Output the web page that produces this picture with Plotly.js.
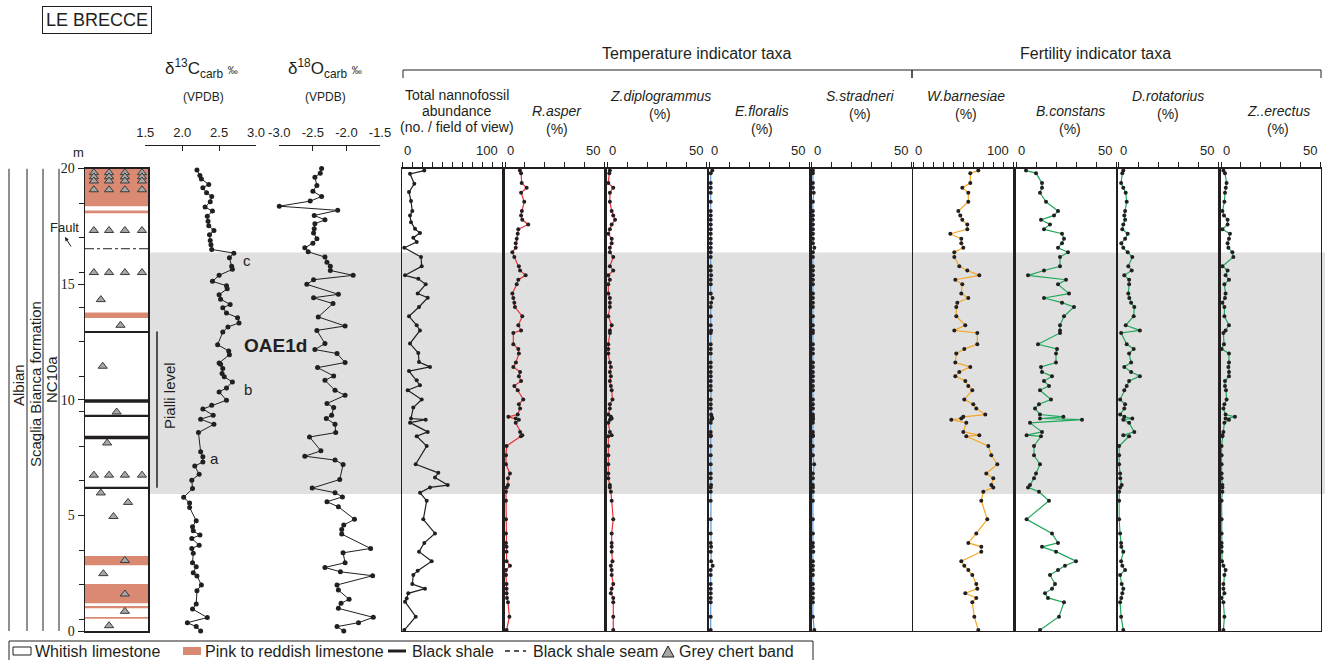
<!DOCTYPE html>
<html><head><meta charset="utf-8">
<script src="https://cdn.plot.ly/plotly-3.0.1.min.js"></script>
<style>body{margin:0;background:#fff}#chart{width:1333px;height:660px}</style>
</head><body><div id="chart"></div>
<script>
// ---------------- DATA ----------------
// delta13C carb (‰ VPDB) vs depth (m)
const c13Depth = [19.94,19.70,19.55,19.31,19.17,18.95,18.79,18.56,18.33,18.16,17.93,17.72,17.52,17.32,17.14,16.89,16.70,16.50,16.34,16.14,15.77,15.64,15.38,15.12,14.93,14.80,14.54,14.35,14.12,13.98,13.75,13.55,13.32,13.15,12.93,12.38,12.11,11.95,11.59,11.53,11.35,11.13,10.99,10.77,10.51,10.34,9.98,9.76,9.60,9.33,9.16,8.94,8.58,7.75,7.53,7.31,7.13,6.78,6.52,6.16,5.78,5.54,5.34,4.77,4.51,4.33,4.15,4.00,3.71,3.57,3.36,2.95,2.78,2.52,2.38,1.99,1.74,1.17,0.95,0.58,0.36,0.19,0.00];
const c13Value = [2.20,2.24,2.26,2.36,2.28,2.33,2.40,2.38,2.31,2.41,2.34,2.35,2.36,2.43,2.37,2.38,2.39,2.40,2.70,2.64,2.67,2.68,2.50,2.41,2.60,2.61,2.50,2.52,2.65,2.55,2.60,2.75,2.77,2.62,2.55,2.48,2.63,2.64,2.50,2.52,2.55,2.54,2.57,2.68,2.60,2.50,2.60,2.40,2.28,2.42,2.25,2.43,2.22,2.25,2.28,2.28,2.17,2.23,2.13,2.14,2.02,2.10,2.10,2.19,2.14,2.15,2.24,2.13,2.23,2.13,2.15,2.14,2.19,2.15,2.20,2.26,2.20,2.19,2.14,2.34,2.07,2.19,2.25];
// delta18O carb (‰ VPDB)
const o18Depth = [20.00,19.80,19.62,19.27,19.02,18.79,18.59,18.37,18.19,17.97,17.78,17.61,17.39,17.21,16.96,16.77,16.57,16.40,16.17,15.95,15.77,15.59,15.38,15.19,14.99,14.56,14.41,14.16,13.58,13.19,13.00,12.43,12.17,12.00,11.61,11.39,11.03,10.84,10.41,10.19,9.84,9.66,9.33,9.19,8.94,8.58,8.39,7.79,7.56,7.39,7.20,6.55,6.18,5.98,5.80,5.59,5.37,4.83,4.58,4.39,4.19,3.57,3.38,2.95,2.75,2.56,2.39,1.99,1.77,1.37,1.20,0.98,0.59,0.36,0.19,0.00];
const o18Value = [-2.37,-2.39,-2.47,-2.44,-2.50,-2.37,-2.54,-3.00,-2.13,-2.48,-2.32,-2.47,-2.48,-2.49,-2.44,-2.50,-2.62,-2.57,-2.32,-2.29,-2.24,-2.24,-1.90,-2.49,-2.59,-2.12,-2.49,-2.20,-2.42,-2.02,-2.44,-2.32,-2.47,-2.14,-2.02,-2.43,-2.19,-2.32,-2.17,-2.02,-2.29,-2.19,-2.22,-2.30,-2.17,-2.16,-2.55,-2.38,-2.62,-2.17,-2.05,-2.10,-2.51,-2.17,-2.06,-2.29,-2.12,-1.88,-2.04,-2.07,-2.07,-1.64,-2.05,-2.02,-2.32,-2.09,-1.61,-2.14,-2.12,-1.96,-2.08,-2.12,-1.60,-1.82,-2.14,-2.04];
// Total nannofossil abundance (no. / field of view)
const abundDepth = [19.91,19.77,19.34,18.98,18.59,18.16,17.97,17.68,17.39,17.21,17.01,16.82,16.57,16.17,15.77,15.38,15.23,14.99,14.59,14.41,14.01,13.61,13.22,13.00,12.43,12.02,11.63,11.42,11.24,10.84,10.63,10.41,10.01,9.66,9.19,9.14,9.01,8.61,8.42,8.00,7.21,6.84,6.64,6.31,6.21,5.98,5.63,4.83,4.22,3.81,3.43,3.02,2.61,2.42,2.03,1.83,1.63,1.41,1.27,0.62,0.04];
const abundValue = [22,7.7,12,6.7,8.7,10,7.7,8.7,12.7,17.7,11,14.4,2,18.7,19.4,2.7,16,23.4,15.4,25.4,16.7,6.7,14.4,17.7,7.7,16,16.7,27.7,6.7,14.4,17.7,5.4,19.4,11,8.7,23.4,7.7,25.4,14.4,24.4,13.4,36,32.7,45.4,27.7,17.7,24.4,21,32.7,22,16.7,29.4,15.4,11,10,22.7,6,4.4,2.7,13.4,2];
// Relative abundances (%) at sample depths (m)
const nannoDepth = [19.91,19.80,19.37,19.17,18.95,18.56,18.16,17.97,17.78,17.58,17.37,17.18,16.96,16.77,16.57,16.38,16.17,15.77,15.59,15.38,15.19,14.99,14.59,14.40,14.20,14.01,13.61,13.22,13.00,12.89,12.40,12.20,12.00,11.61,11.42,11.20,11.02,10.81,10.60,10.41,10.01,9.81,9.62,9.36,9.26,9.19,9.14,9.00,8.61,8.47,8.42,8.00,7.60,7.21,6.81,6.61,6.31,6.21,6.02,5.63,4.83,4.22,3.81,3.64,3.43,3.02,2.82,2.64,2.42,2.03,1.83,1.63,1.43,1.24,0.62,0.04];
const rAsper = [7.5,8.1,8.4,10.9,8.1,9.7,8.5,8.1,8.7,11.7, 6.7,6.4,5.9,5.4,5.4,3.7,4.7,7.0,7.6,10.4, 6.7,5.9,3.7,4.2,4.7,5.0,8.7,6.7,8.1,4.2, 4.2,6.7,7.0,5.5,4.2,7.6,7.0,8.1,4.7,6.4, 9.2,7.0,7.6,6.4,1.7,5.4,7.0,5.4,7.6,8.7, 8.0,0.8,0.5,0.5,2.5,1.5,1.5,0.8,0.5,0.5, 0.5,0.5,0.5,0.8,0.8,0.8,2.5,0.5,0.5,0.8, 0.8,0.8,1.0,1.5,2.2,0.8];
const zDiplogrammus = [1.3,1.0,0.5,3.0,1.3,1.3,2.2,3.0,3.9,2.2, 1.3,0.5,2.2,2.2,1.3,1.3,3.0,1.3,3.0,0.5, 1.3,0.5,0.5,1.3,1.3,1.3,0.5,2.2,1.3,1.3, 0.5,0.5,0.5,1.3,1.8,1.3,1.8,1.3,1.8,2.2, 2.6,1.3,1.3,0.5,1.8,2.2,1.3,0.5,1.3,2.2, 0.5,0.5,0.5,0.5,0.5,0.5,1.3,1.3,1.8,2.2, 3.0,2.2,2.2,2.2,2.2,2.6,1.8,2.2,2.2,3.0, 2.2,1.8,3.0,3.0,3.0,3.0];
const eFloralis = [1.5,0.7,0.7,0.7,0.7,0.7,0.7,0.7,0.7,0.7, 0.7,0.7,0.7,0.7,0.7,0.7,0.7,0.7,0.7,0.9, 0.7,0.7,0.7,1.6,0.9,0.7,0.7,0.7,0.9,0.7, 0.7,0.7,0.7,0.7,0.7,0.7,0.7,0.7,0.7,0.7, 0.7,0.7,0.7,0.9,1.2,1.5,0.9,0.7,0.7,0.7, 0.7,0.7,0.7,0.7,0.7,0.7,0.9,0.7,0.7,0.7, 0.7,0.7,0.7,0.9,0.7,0.9,1.7,0.7,0.7,0.7, 0.7,0.7,0.7,0.7,0.7,0.7];
const sStradneri = [0.6,0.6,0.6,0.6,1.0,0.6,0.6,0.6,0.6,0.6, 0.6,0.6,0.6,0.6,1.3,0.6,0.6,0.6,0.6,0.6, 0.6,0.6,0.6,0.6,0.6,0.6,0.6,0.6,0.6,0.6, 0.6,0.6,0.6,0.6,0.6,0.6,0.6,0.6,0.6,0.6, 0.6,0.6,0.6,0.6,0.6,0.6,0.6,0.6,0.6,0.6, 0.6,0.6,0.6,1.2,0.6,0.6,0.6,0.6,0.6,0.6, 0.6,0.6,0.6,0.6,0.8,0.6,0.6,0.6,0.6,0.6, 0.6,0.6,0.6,0.6,0.6,1.3];
const wBarnesiae = [65,57,57,49,55,55,45,47,49,54, 54,37,48,48,50,41,41,46,54,66, 42,49,48,55,44,43,43,52,41,64, 64,51,43,42,57,46,42,52,55,59, 51,60,63,72,50,48,38,53,50,66, 53,75,78,84,73,80,78,80,70,68, 74,63,55,68,68,48,51,55,59,63, 64,52,63,59,61,65];
const bConstans = [5,10,13,13,12,15,21,19,12.5,17, 14,23,24,23,21,26,22,22,14,6, 25,21,26.5,14,23,29,24,22,22,22, 11,20.5,20,20,12.5,13,18,14,16.5,12, 17.5,11.5,9.5,12,23.7,12,33,7,13,5.3, 12.5,9,9,12,10,9,7,6,11.5,16.5, 5.3,18,21,13,20,30,24.5,21,17,19.5, 18,14.5,16,24,21.5,12];
const dRotatorius = [2.5,2.0,1.4,2.5,3.7,4.2,3.4,3.0,3.4,2.5, 2.0,4.7,3.4,1.5,2.5,4.7,7.0,5.0,6.7,3.0, 5.4,5.4,5.0,5.5,6.4,8.0,7.7,3.7,10.8,1.4, 4.2,7.7,5.4,6.4,3.0,6.4,10.8,5.4,4.2,3.0, 0.9,3.4,3.0,0.9,3.0,7.0,2.5,5.4,8.0,2.5, 5.4,0.4,0.4,0.4,0.9,1.0,1.7,0.9,0.4,0.4, 0.4,0.9,1.4,1.5,2.5,1.4,2.0,3.4,0.9,1.7, 2.5,2.0,1.5,0.9,1.4,2.5];
const zErectus = [1.2,2.0,2.8,2.4,2.0,1.7,0.7,1.5,3.3,3.3, 0.7,4.5,4.0,3.3,3.7,5.7,6.2,0.7,3.3,2.3, 4.0,1.7,2.3,2.0,0.7,1.7,1.7,4.0,2.3,1.2, 1.5,0.3,4.0,4.0,3.7,4.0,4.0,2.0,2.0,2.5, 2.8,1.7,1.2,2.3,7.0,2.3,4.0,1.7,1.2,0.7, 0.7,0.3,0.3,0.3,0.3,0.3,0.7,0.7,0.7,0.3, 0.3,0.3,0.3,0.3,0.3,0.5,1.2,2.3,1.7,1.2, 1.2,1.7,0.3,1.2,1.7,1.2];
// Lithology (m)
const pinkBottom = [18.37,18.07,13.53,2.84,1.20,0.98,0.53];
const pinkTop    = [20.00,18.18,13.77,3.24,2.03,1.08,0.60];
const shaleDepth = [12.93,9.95,9.30,8.37,6.19];
const seamDepth  = [16.53];
const chertPos   = [0.14,0.38,0.63,0.90, 0.14,0.38,0.63,0.90, 0.14,0.38,0.63,0.90, 0.14,0.38,0.63,0.90, 0.14,0.38,0.63,0.90, 0.14,0.38,0.63,0.90, 0.14,0.38,0.63,0.90, 0.25,0.56,0.28,0.50,0.35,0.25,0.68,0.45,0.63,0.29,0.63,0.63,0.38];
const chertDepth = [19.82,19.82,19.82,19.82, 19.64,19.64,19.64,19.64, 19.46,19.46,19.46,19.46, 19.08,19.08,19.08,19.08, 17.32,17.32,17.32,17.32, 15.50,15.50,15.50,15.50, 6.74,6.74,6.74,6.74, 14.33,13.22,11.45,9.47,8.13,5.97,5.56,4.95,3.05,2.48,1.60,0.85,0.23];
const oaeBottom = 5.92, oaeTop = 16.37;
const pialliRange = [6.20, 12.95];
const depthTicks = [0,5,10,15,20];
// --------------------------------------

const W=1333,H=660;
const px=x=>x/W, py=y=>1-y/H;
const yDom=[py(631),py(168.5)];
const FONT='Liberation Sans, Arial, sans-serif';
const INK='#231f20';

const traces=[], shapes=[], ann=[];
const layout={width:W,height:H,margin:{l:0,r:0,t:0,b:0},paper_bgcolor:'#fff',plot_bgcolor:'rgba(0,0,0,0)',
  showlegend:false,font:{family:FONT,color:INK,size:12},hovermode:false};

// lithology column
layout.xaxis={domain:[px(85),px(148.3)],range:[0,1],anchor:'y',showline:true,mirror:true,linecolor:INK,linewidth:1.5,
  ticks:'',showticklabels:false,showgrid:false,zeroline:false,fixedrange:true};
layout.yaxis={domain:yDom,range:[0,20],anchor:'x',showline:true,mirror:true,linecolor:INK,linewidth:1.5,
  ticks:'outside',ticklen:6,tickwidth:1,tickcolor:INK,tickvals:depthTicks,ticktext:depthTicks.map(String),
  tickfont:{family:'Liberation Serif, serif',size:14,color:INK},showgrid:false,zeroline:false,
  minor:{ticks:'outside',ticklen:5,tickcolor:INK,dtick:1.5,tick0:0.5,showgrid:false}};
traces.push({type:'scatter',mode:'markers',x:chertPos,y:chertDepth,xaxis:'x',yaxis:'y',cliponaxis:false,
  marker:{symbol:'triangle-up',size:8,color:'#a7a7a7',line:{color:'#3a3a3a',width:1}}});
pinkBottom.forEach((b,i)=>shapes.push({type:'rect',xref:'x',yref:'y',x0:0,x1:1,y0:b,y1:pinkTop[i],fillcolor:'#da8a72',line:{width:0},layer:'below'}));
shaleDepth.forEach((d,i)=>shapes.push({type:'line',xref:'x',yref:'y',x0:0,x1:1,y0:d,y1:d,line:{color:INK,width:(i===1||i===3)?3.5:2.2}}));
seamDepth.forEach(d=>shapes.push({type:'line',xref:'x',yref:'y',x0:0,x1:1,y0:d,y1:d,line:{color:INK,width:1,dash:'dashdot'}}));

// OAE band
shapes.push({type:'rect',xref:'paper',yref:'y',x0:px(148.3),x1:px(1325),y0:oaeBottom,y1:oaeTop,fillcolor:'#dfe0df',line:{width:0},layer:'below'});

// isotope axes
function isoAxis(dom,rng,vals,txt){return {domain:dom,range:rng,side:'top',anchor:'free',position:py(145),showline:true,linecolor:INK,linewidth:1,
  ticks:'inside',ticklen:5,tickcolor:INK,tickvals:vals,ticktext:txt,tickfont:{size:13,color:INK},ticklabelstandoff:3,showgrid:false,zeroline:false};}
layout.xaxis2=isoAxis([px(145.3),px(256)],[1.5,3.0],[1.5,2,2.5,3],['1.5','2.0','2.5','3.0']);
layout.xaxis3=isoAxis([px(279.3),px(380)],[-3,-1.5],[-3,-2.5,-2,-1.5],['-3.0','-2.5','-2.0','-1.5']);
traces.push({type:'scatter',mode:'lines+markers',x:c13Value,y:c13Depth,xaxis:'x2',yaxis:'y',cliponaxis:false,line:{color:INK,width:1},marker:{color:INK,size:5}});
traces.push({type:'scatter',mode:'lines+markers',x:o18Value,y:o18Depth,xaxis:'x3',yaxis:'y',cliponaxis:false,line:{color:INK,width:1},marker:{color:INK,size:5}});

// nannofossil panels
const panels=[
  {l:402.3,r:502.3,max:100,x:abundValue,y:abundDepth,c:INK},
  {l:505,r:604.3,max:50,x:rAsper,y:nannoDepth,c:'#ec2f36'},
  {l:607.3,r:706.7,max:50,x:zDiplogrammus,y:nannoDepth,c:'#ec2f36'},
  {l:709.3,r:809,max:50,x:eFloralis,y:nannoDepth,c:'#5b9bd5'},
  {l:811.7,r:911.7,max:50,x:sStradneri,y:nannoDepth,c:'#5b9bd5'},
  {l:913.3,r:1013.3,max:100,x:wBarnesiae,y:nannoDepth,c:'#f6a623'},
  {l:1016,r:1116,max:50,x:bConstans,y:nannoDepth,c:'#1fa85b'},
  {l:1118.3,r:1218.3,max:50,x:dRotatorius,y:nannoDepth,c:'#1fa85b'},
  {l:1221,r:1320.7,max:50,x:zErectus,y:nannoDepth,c:'#1fa85b'}
];
panels.forEach((p,i)=>{
  const n=i+4, yn=i+2;
  layout['xaxis'+n]={domain:[px(p.l),px(p.r)],range:[0,p.max],side:'top',anchor:'y'+yn,showline:true,mirror:true,linecolor:INK,linewidth:1.3,
    ticks:'outside',ticklen:5,tickwidth:1,tickcolor:INK,tick0:0,dtick:10,showticklabels:false,showgrid:false,zeroline:false};
  layout['yaxis'+yn]={domain:yDom,range:[0,20],anchor:'x'+n,showline:true,mirror:true,linecolor:INK,linewidth:1.3,ticks:'',showticklabels:false,showgrid:false,zeroline:false};
  traces.push({type:'scatter',mode:'lines+markers',x:p.x,y:p.y,xaxis:'x'+n,yaxis:'y'+yn,cliponaxis:false,
    line:{color:p.c,width:1.2},marker:{color:INK,size:4}});
  // end tick labels
  ann.push({xref:'x'+n,yref:'paper',x:0,y:py(151),text:'0',showarrow:false,xanchor:'left',yanchor:'middle',xshift:0,font:{size:13,color:INK,family:FONT}});
  ann.push({xref:'x'+n,yref:'paper',x:p.max,y:py(151),text:String(p.max),showarrow:false,xanchor:'right',yanchor:'middle',xshift:-2,font:{size:13,color:INK,family:FONT}});
});

// stratigraphic columns
[9,27,43,59].forEach(x=>shapes.push({type:'line',xref:'paper',yref:'y',x0:px(x),x1:px(x),y0:0,y1:20,line:{color:INK,width:1}}));
shapes.push({type:'line',xref:'paper',yref:'y',x0:px(157),x1:px(157),y0:pialliRange[0],y1:pialliRange[1],line:{color:INK,width:1.5}});

// header brackets
[[403,912],[912,1321]].forEach(([a,b])=>{
  shapes.push({type:'path',xref:'paper',yref:'paper',path:`M${px(a)},${py(78)} L${px(a)},${py(70)} L${px(b)},${py(70)} L${px(b)},${py(78)}`,line:{color:INK,width:1}});
});

function txt(x,y,t,o={}){ann.push(Object.assign({xref:'paper',yref:'paper',x:px(x),y:py(y),text:t,showarrow:false,xanchor:'center',yanchor:'middle',font:{size:14,color:INK,family:FONT}},o));}

txt(97,20.5,'LE BRECCE',{font:{size:18,color:INK,family:FONT},bordercolor:INK,borderwidth:1,borderpad:3});
txt(202,69,'δ<sup>13</sup>C<sub>carb</sub> <span style="font-size:10px">‰</span>',{font:{size:17,color:INK,family:FONT}});
txt(325,69,'δ<sup>18</sup>O<sub>carb</sub> <span style="font-size:10px">‰</span>',{font:{size:17,color:INK,family:FONT}});
txt(203,97,'(VPDB)',{font:{size:12,color:INK,family:FONT}});
txt(325,97,'(VPDB)',{font:{size:12,color:INK,family:FONT}});
txt(78,152,'m',{font:{size:13,color:INK,family:FONT}});
txt(697,53,'Temperature indicator taxa',{font:{size:16,color:INK,family:FONT}});
txt(1095,53,'Fertility indicator taxa',{font:{size:16,color:INK,family:FONT}});
txt(457,95,'Total nannofossil');txt(457,111,'abundance');txt(457,127,'(no. / field of view)');
const hi=[[557,'R.asper',1],[660,'Z.diplogrammus',0],[762,'E.floralis',1],[860,'S.stradneri',0],[966,'W.barnesiae',0],[1070,'B.constans',1],[1168,'D.rotatorius',0],[1278,'Z..erectus',1]];
hi.forEach(([x,t,low])=>{const y0=low?111:96;txt(x,y0,'<i>'+t+'</i>');txt(x,y0+18,'(%)');});

// rotated column labels
txt(18,385,'Albian',{textangle:-90,font:{size:15,color:INK,family:FONT}});
txt(35,384,'Scaglia Bianca formation',{textangle:-90,font:{size:15,color:INK,family:FONT}});
txt(51,380,'NC10a',{textangle:-90,font:{size:15,color:INK,family:FONT}});
txt(169,395,'Pialli level',{textangle:-90,font:{size:15,color:INK,family:FONT}});
txt(64,227,'Fault',{font:{size:13,color:INK,family:FONT}});
ann.push({xref:'paper',yref:'paper',x:px(65),y:py(237),ax:7,ay:11,text:'',showarrow:true,arrowhead:2,arrowsize:0.8,arrowwidth:1,arrowcolor:INK});
// curve labels
txt(247,260,'c',{font:{size:15,color:INK,family:FONT}});
txt(248,389,'b',{font:{size:15,color:INK,family:FONT}});
txt(214,458,'a',{font:{size:15,color:INK,family:FONT}});
txt(275,345,'<b>OAE1d</b>',{font:{size:19,color:INK,family:FONT}});

// legend
shapes.push({type:'rect',xref:'paper',yref:'paper',x0:px(9),x1:px(813),y0:py(641),y1:py(664),line:{color:INK,width:1},fillcolor:'rgba(0,0,0,0)'});
shapes.push({type:'rect',xref:'paper',yref:'paper',x0:px(13),x1:px(31),y0:py(647),y1:py(655),line:{color:INK,width:1},fillcolor:'#fff'});
shapes.push({type:'rect',xref:'paper',yref:'paper',x0:px(183),x1:px(201),y0:py(647),y1:py(655),line:{width:0},fillcolor:'#da8a72'});
shapes.push({type:'line',xref:'paper',yref:'paper',x0:px(388),x1:px(406),y0:py(651),y1:py(651),line:{color:INK,width:3}});
shapes.push({type:'line',xref:'paper',yref:'paper',x0:px(505),x1:px(526),y0:py(651),y1:py(651),line:{color:INK,width:1.5,dash:'5px,4px'}});
shapes.push({type:'path',xref:'paper',yref:'paper',path:`M${px(662)},${py(657)} L${px(674)},${py(657)} L${px(668)},${py(646)} Z`,line:{color:INK,width:1},fillcolor:'#a7a7a7'});
const lg=[[33,'Whitish limestone'],[203,'Pink to reddish limestone'],[410,'Black shale'],[531,'Black shale seam'],[677,'Grey chert band']];
lg.forEach(([x,t])=>txt(x,651,t,{xanchor:'left',font:{size:16,color:INK,family:FONT}}));

layout.shapes=shapes;layout.annotations=ann;
Plotly.newPlot('chart',traces,layout,{staticPlot:true,displayModeBar:false});
</script></body></html>
